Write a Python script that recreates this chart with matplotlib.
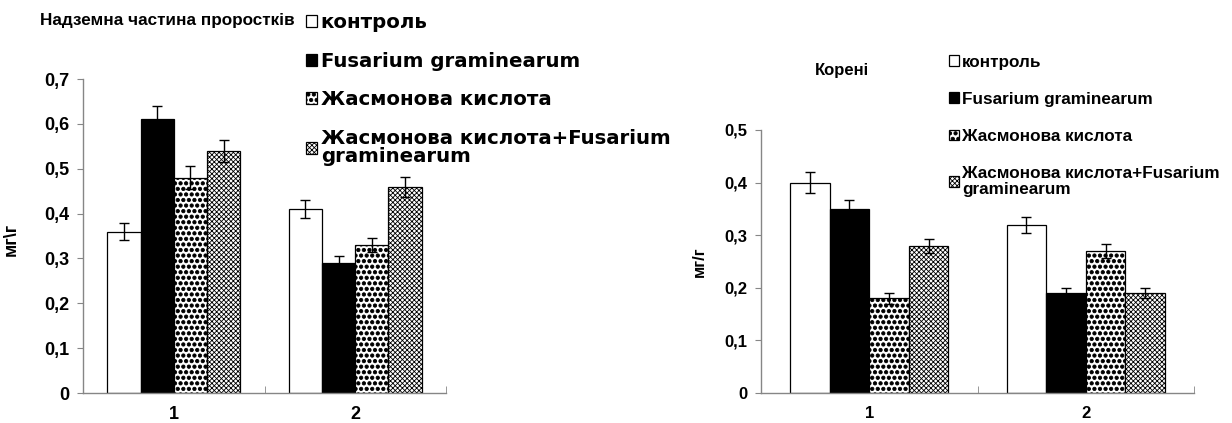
import numpy as np
import matplotlib
matplotlib.use('Agg')
import matplotlib.pyplot as plt
import matplotlib.hatch as mhatch
from matplotlib.ticker import FuncFormatter, FixedLocator

# bigger filled dots for the '.' hatch (Жасмонова кислота pattern)
mhatch.SmallFilledCircles.size = 0.3
plt.rcParams['hatch.linewidth'] = 0.6

plt.rcParams['font.family'] = ['Liberation Sans', 'DejaVu Sans']
plt.rcParams['font.weight'] = 'bold'

# ---- data ----
groups = ['1', '2']
series = ['контроль', 'Fusarium graminearum', 'Жасмонова кислота',
          'Жасмонова кислота+Fusarium\ngraminearum']

shoot_vals = [[0.36, 0.41], [0.61, 0.29], [0.48, 0.33], [0.54, 0.46]]
shoot_err = [[0.018, 0.020], [0.030, 0.015], [0.025, 0.015], [0.025, 0.022]]

root_vals = [[0.40, 0.32], [0.35, 0.19], [0.18, 0.27], [0.28, 0.19]]
root_err = [[0.020, 0.015], [0.017, 0.010], [0.010, 0.013], [0.013, 0.010]]

# style for every series
STYLES = [
    dict(facecolor='white', hatch=None),
    dict(facecolor='black', hatch=None),
    dict(facecolor='white', hatch='...'),
    dict(facecolor='white', hatch='xxxxxxx'),
]

AX_GRAY = '#868686'


def draw_panel(ax, vals, errs, ymax, ylab, fs, ylab_fs):
    x = np.arange(len(groups))
    w = 0.183
    handles = []
    for i, (v, e) in enumerate(zip(vals, errs)):
        st = STYLES[i]
        b = ax.bar(x + (i - 1.5) * w, v, w, color=st['facecolor'], edgecolor='black',
                   linewidth=0.9, hatch=st['hatch'], label=series[i], zorder=2)
        ax.errorbar(x + (i - 1.5) * w, v, yerr=e, fmt='none', ecolor='black',
                    elinewidth=1.0, capsize=3.5, capthick=1.0, zorder=3)
        handles.append(b)
    ax.set_xlim(-0.5, len(groups) - 0.5)
    ax.set_ylim(0, ymax)
    ax.set_yticks(np.arange(0, ymax + 0.001, 0.1))
    ax.yaxis.set_major_formatter(FuncFormatter(
        lambda v, p: '0' if abs(v) < 1e-9 else f'{v:.1f}'.replace('.', ',')))
    ax.set_xticks(x)
    ax.set_xticklabels(groups)
    ax.xaxis.set_minor_locator(FixedLocator(np.arange(-0.5, len(groups), 1.0)))
    ax.tick_params(axis='x', which='major', length=0, pad=9)
    ax.tick_params(axis='x', which='minor', direction='in', length=5, color=AX_GRAY)
    ax.tick_params(axis='y', direction='out', length=4, color=AX_GRAY, pad=6)
    for s in ['top', 'right']:
        ax.spines[s].set_visible(False)
    for s in ['left', 'bottom']:
        ax.spines[s].set_color(AX_GRAY)
        ax.spines[s].set_linewidth(1.0)
    for lab in ax.get_xticklabels() + ax.get_yticklabels():
        lab.set_fontsize(fs)
        lab.set_fontweight('bold')
    ax.set_ylabel(ylab, fontsize=ylab_fs, fontweight='bold')
    return handles


fig = plt.figure(figsize=(12.32, 4.23), dpi=100)

# left panel: shoots
ax1 = fig.add_axes([83 / 1232, 30 / 423, 363 / 1232, 314 / 423])
h1 = draw_panel(ax1, shoot_vals, shoot_err, 0.7, 'мг\\г', 13, 13)
ax1.yaxis.set_label_coords(-0.175, 0.49)
fig.text(40 / 1232, 1 - 20 / 423, 'Надземна частина проростків',
         fontsize=12.3, fontweight='bold', va='center', ha='left')
leg1 = ax1.legend(handles=h1, loc='upper left', bbox_to_anchor=(296 / 1232, 1 - 3 / 423),
                  bbox_transform=fig.transFigure, frameon=False, handlelength=0.55,
                  handleheight=0.55, handletextpad=0.2, labelspacing=1.0, borderpad=0,
                  prop={'family': ['DejaVu Sans'], 'size': 14.2, 'weight': 'bold'})
for t in leg1.get_texts():
    t.set_linespacing(0.95)

# right panel: roots
ax2 = fig.add_axes([761 / 1232, 30 / 423, 433 / 1232, 263 / 423])
h2 = draw_panel(ax2, root_vals, root_err, 0.5, 'мг/г', 12, 12)
ax2.yaxis.set_label_coords(-0.125, 0.5)
fig.text(842 / 1232, 1 - 70 / 423, 'Корені', fontsize=12, fontweight='bold',
         va='center', ha='center')
leg2 = ax2.legend(handles=h2, loc='upper left', bbox_to_anchor=(940 / 1232, 1 - 46 / 423),
                  bbox_transform=fig.transFigure, frameon=False, handlelength=0.6,
                  handleheight=0.6, handletextpad=0.2, labelspacing=1.3, borderpad=0,
                  prop={'family': ['Liberation Sans', 'DejaVu Sans'], 'size': 12.3,
                        'weight': 'bold'})
for t in leg2.get_texts():
    t.set_linespacing(1.1)

fig.savefig('out.png', dpi=100)
